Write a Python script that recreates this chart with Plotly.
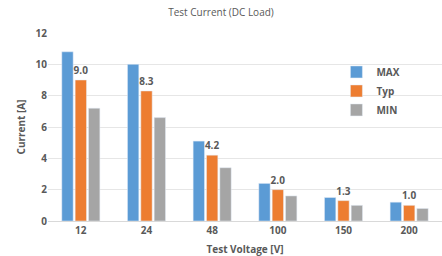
import plotly.graph_objects as go

categories = ["12", "24", "48", "100", "150", "200"]
max_vals = [10.8, 10.0, 5.1, 2.4, 1.5, 1.2]
typ_vals = [9.0, 8.3, 4.2, 2.0, 1.3, 1.0]
min_vals = [7.2, 6.6, 3.4, 1.6, 1.0, 0.8]
y_ticks = [0, 2, 4, 6, 8, 10, 12]

FAM = "Open Sans, Liberation Sans, sans-serif"
GREY = "#595959"

fig = go.Figure()
fig.add_trace(go.Bar(name="MAX", x=categories, y=max_vals, marker_color="#5B9BD5"))
fig.add_trace(go.Bar(name="Typ", x=categories, y=typ_vals, marker_color="#ED7D31",
                     text=[f"{v:.1f}" for v in typ_vals], textposition="outside",
                     constraintext="none",
                     textfont=dict(family=FAM, size=10, color=GREY, weight="bold"),
                     cliponaxis=False))
fig.add_trace(go.Bar(name="MIN", x=categories, y=min_vals, marker_color="#A5A5A5"))

fig.update_layout(
    width=442, height=256,
    margin=dict(l=48, r=0, t=33, b=35),
    paper_bgcolor="white", plot_bgcolor="white",
    barmode="group", bargap=0.39, bargroupgap=0.15,
    font=dict(family=FAM, size=10, color=GREY),
    title=dict(text="Test Current (DC Load)", x=0.5, xanchor="center", y=0.95, yanchor="middle",
               font=dict(family=FAM, size=10, color=GREY)),
    legend=dict(x=0.732, y=0.87, xanchor="left", yanchor="top", bgcolor="rgba(0,0,0,0)",
                font=dict(size=10, color=GREY, weight="bold"), tracegroupgap=0,
                itemwidth=30),
    showlegend=True,
)
fig.update_xaxes(showgrid=False, showline=True, linecolor="#D9D9D9", ticks="",
                 tickfont=dict(size=10, weight="bold"),
                 title=dict(text="Test Voltage [V]", standoff=9, font=dict(size=10, weight="bold")))
fig.update_yaxes(range=[0, 12], tickvals=y_ticks, showgrid=True, gridcolor="#E6E6E6",
                 zeroline=False, tickfont=dict(size=10, weight="bold"),
                 title=dict(text="Current [A]", standoff=8, font=dict(size=10, weight="bold")))

fig.write_html("out.html", config={"displayModeBar": False},
               post_script="document.body.style.margin='0';document.body.style.padding='0';")
